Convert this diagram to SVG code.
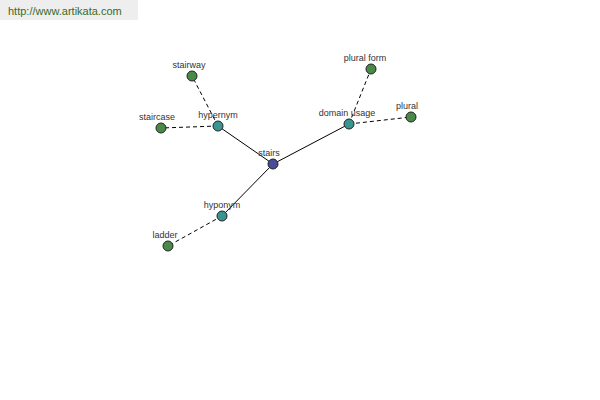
<svg xmlns="http://www.w3.org/2000/svg" width="600" height="400" viewBox="0 0 600 400">
<style>
text{font-family:"Liberation Sans",Arial,sans-serif;font-size:9px;fill:#333;text-anchor:middle}
.n{stroke:#222;stroke-width:1}
.g{fill:#4a8a48}.t{fill:#3a9590}.b{fill:#4a4a9a}
.s{stroke:#000;stroke-width:1;fill:none}
.d{stroke:#000;stroke-width:1;fill:none;stroke-dasharray:4,3}
</style>
<rect x="0" y="0" width="138" height="20" fill="#eeeeee"/>
<text x="8" y="15" style="text-anchor:start;font-size:11px;fill:#3a6a2a">http://www.artikata.com</text>
<g id="connectors">
<line class="s" x1="273" y1="164" x2="218" y2="126"/>
<line class="s" x1="273" y1="164" x2="349" y2="124"/>
<line class="s" x1="273" y1="164" x2="222" y2="216"/>
<line class="d" x1="218" y1="126" x2="192" y2="76"/>
<line class="d" x1="218" y1="126" x2="161" y2="128"/>
<line class="d" x1="349" y1="124" x2="371" y2="69"/>
<line class="d" x1="349" y1="124" x2="411" y2="117"/>
<line class="d" x1="222" y1="216" x2="168" y2="246"/>
</g>
<g id="stairs"><circle class="n b" cx="273" cy="164" r="5"/><text x="269" y="156">stairs</text></g>
<g id="hypernym"><circle class="n t" cx="218" cy="126" r="5"/><text x="218" y="118">hypernym</text></g>
<g id="domain-usage"><circle class="n t" cx="349" cy="124" r="5"/><text x="347" y="116">domain usage</text></g>
<g id="hyponym"><circle class="n t" cx="222" cy="216" r="5"/><text x="222" y="208">hyponym</text></g>
<g id="stairway"><circle class="n g" cx="192" cy="76" r="5"/><text x="189" y="68">stairway</text></g>
<g id="staircase"><circle class="n g" cx="161" cy="128" r="5"/><text x="157" y="120">staircase</text></g>
<g id="plural-form"><circle class="n g" cx="371" cy="69" r="5"/><text x="365" y="61">plural form</text></g>
<g id="plural"><circle class="n g" cx="411" cy="117" r="5"/><text x="407" y="109">plural</text></g>
<g id="ladder"><circle class="n g" cx="168" cy="246" r="5"/><text x="165" y="238">ladder</text></g>
</svg>
